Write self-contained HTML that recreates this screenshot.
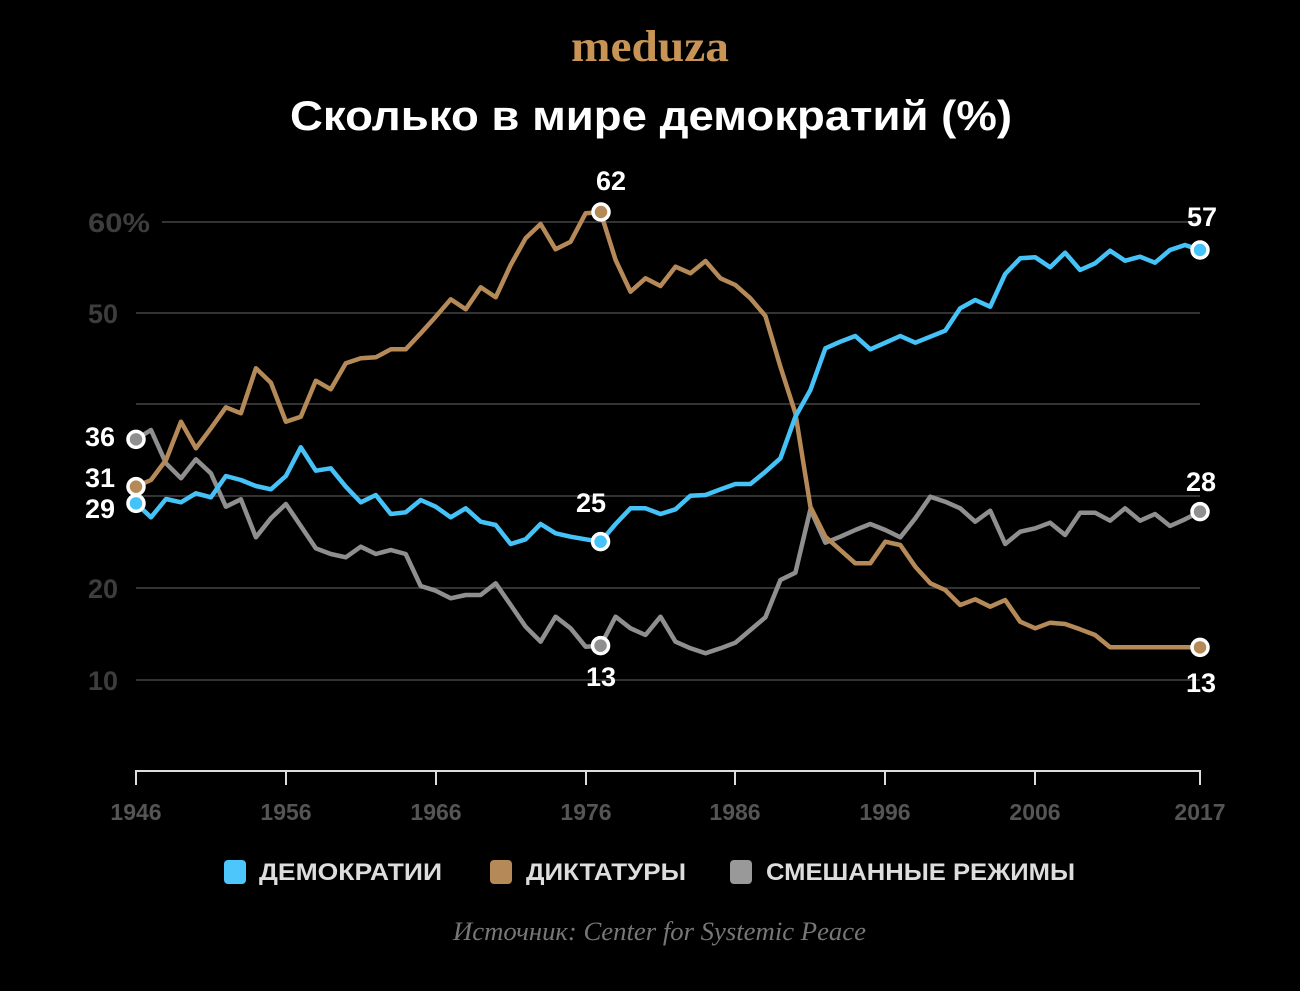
<!DOCTYPE html>
<html><head><meta charset="utf-8"><style>
html,body{margin:0;padding:0;background:#000;}
body{width:1300px;height:986px;overflow:hidden;}
svg text{font-family:"Liberation Sans",sans-serif;}
</style></head><body>
<svg id="s" width="1300" height="986" viewBox="0 0 1300 986" xmlns="http://www.w3.org/2000/svg">
<rect width="1300" height="986" fill="#000"/>
<text x="650" y="61" text-anchor="middle" font-weight="bold" font-size="44" fill="#c89456" style="font-family:'Liberation Serif',serif" textLength="158" lengthAdjust="spacingAndGlyphs">meduza</text>
<text x="651" y="130" text-anchor="middle" font-weight="bold" font-size="42" fill="#fff" textLength="722" lengthAdjust="spacingAndGlyphs">Сколько в мире демократий (%)</text>
<g stroke="#333" stroke-width="2">
<line x1="162" y1="222" x2="1200" y2="222"/>
<line x1="136" y1="313" x2="1200" y2="313"/>
<line x1="136" y1="404" x2="1200" y2="404"/>
<line x1="136" y1="496" x2="1200" y2="496"/>
<line x1="136" y1="588" x2="1200" y2="588"/>
<line x1="136" y1="680" x2="1200" y2="680"/>
</g>
<g font-weight="bold" font-size="27" fill="#3d3d3d">
<text x="88" y="232" textLength="62" lengthAdjust="spacingAndGlyphs">60%</text>
<text x="88" y="323">50</text>
<text x="88" y="598">20</text>
<text x="88" y="690">10</text>
</g>
<g stroke="#ddd" stroke-width="2" fill="none">
<line x1="135" y1="771" x2="1201" y2="771"/>
<line x1="136" y1="771" x2="136" y2="785"/>
<line x1="286" y1="771" x2="286" y2="785"/>
<line x1="436" y1="771" x2="436" y2="785"/>
<line x1="586" y1="771" x2="586" y2="785"/>
<line x1="735" y1="771" x2="735" y2="785"/>
<line x1="885" y1="771" x2="885" y2="785"/>
<line x1="1035" y1="771" x2="1035" y2="785"/>
<line x1="1200" y1="771" x2="1200" y2="785"/>
</g>
<g font-weight="bold" font-size="23" fill="#555" text-anchor="middle">
<text x="136" y="820">1946</text><text x="286" y="820">1956</text><text x="436" y="820">1966</text><text x="586" y="820">1976</text><text x="735" y="820">1986</text><text x="885" y="820">1996</text><text x="1035" y="820">2006</text><text x="1200" y="820">2017</text>
</g>
<g id="lines"></g>
<g font-weight="bold" font-size="27" fill="#fff" text-anchor="middle">
<text x="611" y="190">62</text>
<text x="1202" y="226">57</text>
<text x="591" y="512">25</text>
<text x="601" y="686">13</text>
<text x="1201" y="491">28</text>
<text x="1201" y="692">13</text>
<text x="100" y="446">36</text>
<text x="100" y="487">31</text>
<text x="100" y="518">29</text>
</g>
<rect x="224" y="860" width="22" height="24" rx="4" fill="#4cc6fb"/>
<rect x="490" y="860" width="22" height="24" rx="4" fill="#b58a58"/>
<rect x="730" y="860" width="22" height="24" rx="4" fill="#999"/>
<g font-weight="bold" font-size="24" fill="#ddd">
<text x="259" y="880" textLength="183" lengthAdjust="spacingAndGlyphs">ДЕМОКРАТИИ</text>
<text x="526" y="880" textLength="160" lengthAdjust="spacingAndGlyphs">ДИКТАТУРЫ</text>
<text x="766" y="880" textLength="309" lengthAdjust="spacingAndGlyphs">СМЕШАННЫЕ РЕЖИМЫ</text>
</g>
<text x="453" y="940" font-style="italic" font-size="26" fill="#777" style="font-family:'Liberation Serif',serif" textLength="413" lengthAdjust="spacingAndGlyphs">Источник: Center for Systemic Peace</text>
</svg>
<script>
var A=[860,840,780,665,745,685,622,640,505,548,665,650,542,568,490,475,472,448,448,400,350,298,328,262,292,195,115,72,148,125,40,37];
var A2=[180,275,235,258,200,220,183,235,255,295,348,500,640,920,1010,1050,1090,1090,1025,1035,1100,1150,1170,1215,1198,1220,1200,1265,1285,1268,1272,1288,1305,1342,1342,1342,1342,1342,1342,1342];
var B=[910,952,897,907,880,892,828,840,858,868,828,742,812,805,860,907,885,942,937,900,920,952,925,965,975,1032,1018,972,1000,1010,1018,1025];
var B2=[972,925,925,942,928,887,885,868,852,852,815,775,650,570,445,425,408,448,428,408,428,410,392,325,300,320,222,175,172,202,158,210,190,152,182,170,188,150,135,150];
var G=[718,690,790,835,778,820,920,898,1012,955,912,978,1045,1062,1072,1040,1062,1050,1062,1158,1172,1195,1185,1185,1150,1215,1280,1325,1250,1285,1340,1337];
var G2=[1250,1285,1305,1250,1325,1345,1360,1345,1328,1290,1252,1140,1118,928,1028,1010,990,972,990,1012,955,890,905,925,965,932,1032,995,985,968,1005,938,938,962,925,962,942,978,958,935];
function pts(a){return a.map(function(v,i){return [136+i*14.986,200+v/3];});}
function pl(d,c){return '<polyline fill="none" stroke="'+c+'" stroke-width="4.5" stroke-linejoin="round" points="'+d.map(function(p){return p[0].toFixed(1)+','+p[1].toFixed(1)}).join(' ')+'"/>';}
var g=pts(G.concat(G2)),a=pts(A.concat(A2)),b=pts(B.concat(B2));
function c(p,col){return '<circle cx="'+p[0]+'" cy="'+p[1]+'" r="8" fill="'+col+'" stroke="#fff" stroke-width="3.5"/>';}
var h=pl(g,'#8f8f8f')+pl(a,'#b58a58')+pl(b,'#45c3f8');
h+=c(g[0],'#8f8f8f')+c(g[31],'#8f8f8f')+c(g[71],'#8f8f8f');
h+=c(a[0],'#b58a58')+c([601,212],'#b58a58')+c(a[71],'#b58a58');
h+=c(b[0],'#45c3f8')+c(b[31],'#45c3f8')+c(b[71],'#45c3f8');
document.getElementById('lines').innerHTML=h;
</script>
</body></html>
